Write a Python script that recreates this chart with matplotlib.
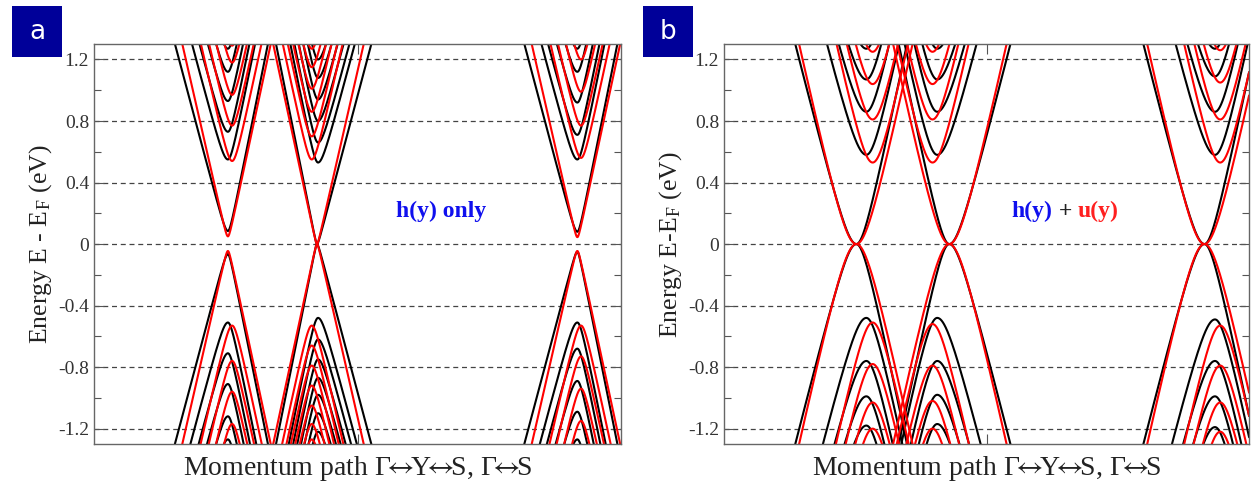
import numpy as np
import matplotlib
matplotlib.use("Agg")
import matplotlib.pyplot as plt
from matplotlib.patches import Rectangle
from matplotlib.ticker import MultipleLocator, FuncFormatter

plt.rcParams['font.family'] = ['Liberation Serif', 'DejaVu Serif']
plt.rcParams['mathtext.fontset'] = 'stix'
plt.rcParams['axes.unicode_minus'] = False

# ---- panel a: h(y) only ----
# valley positions along the path (fraction of the path)
a_k_outer = [0.254, 0.423, 0.917]
a_k_black = [0.254, 0.425, 0.917]
a_k_red = [0.262, 0.413, 0.924]
# dispersion slope (eV per path unit) left / right of each valley
a_v_black = [(12.9, 17.1), (17.1, 12.9), (12.9, 17.1)]
a_v_red = [(15.0, 16.0), (16.0, 15.0), (15.0, 16.0)]
# band edges (eV): first entry = outer band, the rest = subbands
a_cond_black = [[0.085, 0.55, 0.73, 0.93, 1.12, 1.27],
                [0.0, 0.53, 0.66, 0.80, 0.94, 1.08, 1.20],
                [0.08, 0.55, 0.71, 0.92, 1.12, 1.27]]
a_val_black = [[-0.065, -0.51, -0.71, -0.91, -1.12, -1.27],
               [0.0, -0.48, -0.62, -0.75, -0.87, -0.98, -1.10, -1.22],
               [-0.05, -0.51, -0.68, -0.89, -1.09, -1.27]]
a_cond_red = [[0.05, 0.54, 0.77, 0.97, 1.18, 1.29],
              [0.0, 0.55, 0.70, 0.86, 1.01, 1.15, 1.27],
              [0.045, 0.56, 0.77, 0.99, 1.20]]
a_val_red = [[-0.045, -0.53, -0.76, -0.96, -1.17],
             [0.0, -0.53, -0.66, -0.79, -0.92, -1.05, -1.17, -1.27],
             [-0.045, -0.53, -0.73, -0.94, -1.15]]

# ---- panel b: h(y) + u(y) ----
b_k_outer = [0.252, 0.429, 0.915]
b_k_black = [0.271, 0.406, 0.935]
b_k_red = [0.283, 0.397, 0.945]
b_v_black = [(13.5, 16.3), (16.3, 13.5), (13.5, 16.3)]
b_v_red = [(15.5, 15.8), (15.8, 15.5), (15.5, 15.8)]
b_cond_black = [[0.0, 0.58, 0.86, 1.07, 1.27],
                [0.0, 0.58, 0.86, 1.07, 1.27],
                [0.0, 0.58, 0.86, 1.09, 1.27]]
b_val_black = [[0.0, -0.48, -0.76, -0.99, -1.18],
               [0.0, -0.48, -0.76, -0.98, -1.17],
               [0.0, -0.49, -0.76, -0.99, -1.19]]
b_cond_red = [[0.0, 0.53, 0.81, 1.04, 1.25],
              [0.0, 0.53, 0.81, 1.04, 1.25],
              [0.0, 0.53, 0.81, 1.05, 1.26]]
b_val_red = [[0.0, -0.51, -0.78, -1.03, -1.20],
             [0.0, -0.52, -0.79, -1.02, -1.20],
             [0.0, -0.53, -0.79, -1.03, -1.22]]

yticks = [-1.2, -0.8, -0.4, 0, 0.4, 0.8, 1.2]
arrow = r"$\!\!\leftrightarrow\!\!$"
xlabel = "Momentum path Γ" + arrow + "Y" + arrow + "S, Γ" + arrow + "S"


def band(k, k0, e0, s, vl, vr, w):
    dk = k - k0
    v = np.where(dk < 0, vl, vr)
    return e0 + s * (np.sqrt(w ** 2 + (v * dk) ** 2) - w)


def draw_bands(ax, k_outer, k_sub, vel, cond, val, color, w_outer, w_sub):
    k = np.linspace(0, 1, 2000)
    for i in range(len(k_outer)):
        vl, vr = vel[i]
        for s, edges in ((1, cond[i]), (-1, val[i])):
            for j, e0 in enumerate(edges):
                if j == 0:
                    w = w_outer if w_outer is not None else max(abs(e0), 0.03)
                    e = band(k, k_outer[i], e0, s, vl, vr, w)
                else:
                    e = band(k, k_sub[i], e0, s, vl, vr, w_sub)
                ax.plot(k, e, color=color, lw=1.5, solid_capstyle='round')


def style_axes(ax, ylabel):
    ax.set_xlim(0, 1)
    ax.set_ylim(-1.3, 1.3)
    ax.set_yticks(yticks)
    ax.yaxis.set_minor_locator(MultipleLocator(0.2))
    ax.yaxis.set_major_formatter(FuncFormatter(lambda v, p: "0" if abs(v) < 1e-9 else "%.1f" % v))
    ax.set_xticks([0.5])
    ax.set_xticklabels([])
    ax.tick_params(axis='both', which='both', direction='in', left=True, right=True,
                   top=True, bottom=True, colors='#555555', labelcolor='#333333',
                   labelsize=14, width=0.8)
    ax.tick_params(which='major', length=7)
    ax.tick_params(which='minor', length=5)
    for y in yticks:
        ax.axhline(y, color='#444444', lw=0.9, ls=(0, (4, 3)), zorder=0)
    for sp in ax.spines.values():
        sp.set_color('#666666')
        sp.set_linewidth(1.0)
    ax.set_ylabel(ylabel, fontsize=18.5, color='#222222', labelpad=3)
    ax.set_xlabel(xlabel, fontsize=20, color='#222222', labelpad=4)


fig = plt.figure(figsize=(12.54, 4.83), dpi=100)
ax_a = fig.add_axes([0.075, 0.0807, 0.4203, 0.828])
ax_b = fig.add_axes([0.5774, 0.0807, 0.4187, 0.828])

draw_bands(ax_a, a_k_outer, a_k_black, a_v_black, a_cond_black, a_val_black, 'black', None, 0.14)
draw_bands(ax_a, a_k_outer, a_k_red, a_v_red, a_cond_red, a_val_red, '#ff0000', None, 0.14)
draw_bands(ax_b, b_k_outer, b_k_black, b_v_black, b_cond_black, b_val_black, 'black', 0.30, 0.35)
draw_bands(ax_b, b_k_outer, b_k_red, b_v_red, b_cond_red, b_val_red, '#ff0000', 0.45, 0.35)

style_axes(ax_a, r"Energy E - E$_{\mathregular{F}}$ (eV)")
style_axes(ax_b, r"Energy E-E$_{\mathregular{F}}$ (eV)")

ax_a.text(0.658, 0.21, "h(y) only", color='#1010ee', fontsize=17, fontweight='bold',
          ha='center', va='center')

t1 = ax_b.text(0.548, 0.21, "h(y)", color='#1010ee', fontsize=17, fontweight='bold',
               ha='left', va='center')
t2 = ax_b.annotate(" + ", xy=(1, 0), xycoords=t1, color='#222222', fontsize=17,
                   fontweight='bold', ha='left', va='bottom')
ax_b.annotate("u(y)", xy=(1, 0), xycoords=t2, color='#ff2020', fontsize=17,
              fontweight='bold', ha='left', va='bottom')

for x0, lab in ((0.0096, 'a'), (0.5128, 'b')):
    fig.patches.append(Rectangle((x0, 0.882), 0.0399, 0.1056, transform=fig.transFigure,
                                 facecolor='#000099', edgecolor='none'))
    fig.text(x0 + 0.02, 0.934, lab, color='white', fontsize=19, ha='center', va='center',
             family='DejaVu Sans')

fig.savefig("out.png", dpi=100)
